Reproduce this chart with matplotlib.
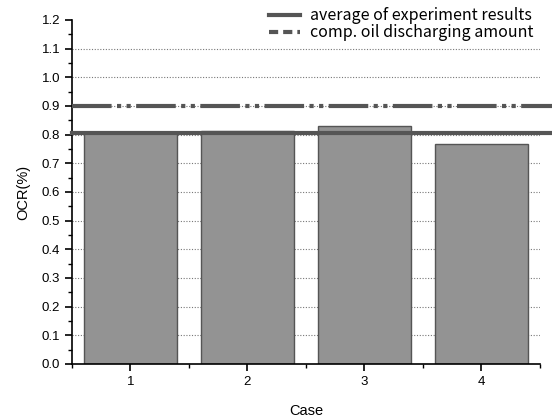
import numpy as np
import matplotlib.pyplot as plt
from matplotlib.lines import Line2D
from matplotlib.ticker import MultipleLocator

plt.rcParams['font.family'] = ['Liberation Sans', 'DejaVu Sans']

cases = [1, 2, 3, 4]
ocr = [0.805, 0.813, 0.830, 0.766]
avg_result = 0.805
comp_oil = 0.90

fig = plt.figure(figsize=(5.52, 4.18), dpi=100)
ax = fig.add_axes([0.1304, 0.1292, 0.8478, 0.8230])

# dotted grid behind the bars
for y in np.arange(0.1, 1.15, 0.1):
    ax.axhline(y, color='#777777', lw=0.8, ls=(0, (1, 1.5)), zorder=0)

ax.bar(cases, ocr, width=0.8, color='#939393', edgecolor='#555555', lw=1.0, zorder=2)

ax.axhline(avg_result, xmin=0, xmax=1.026, color='#555555', lw=3, clip_on=False, zorder=3)
ax.axhline(comp_oil, xmin=0, xmax=1.026, color='#555555', lw=3,
           ls=(0, (9.5, 1.3, 1, 1.3, 1, 1.3)), clip_on=False, zorder=3)

ax.set_xlim(0.5, 4.5)
ax.set_ylim(0, 1.2)
ax.set_xticks(cases)
ax.xaxis.set_minor_locator(MultipleLocator(0.5))
ax.yaxis.set_major_locator(MultipleLocator(0.1))
ax.yaxis.set_minor_locator(MultipleLocator(0.05))
ax.set_yticklabels([f'{v:.1f}' for v in ax.get_yticks()])
ax.tick_params(which='major', length=5, width=1.2, labelsize=9.5, direction='out')
ax.tick_params(which='minor', length=3, width=1.0, direction='out')

for s in ['top', 'right']:
    ax.spines[s].set_visible(False)
for s in ['left', 'bottom']:
    ax.spines[s].set_linewidth(1.2)

ax.set_xlabel('Case', fontsize=10.5, labelpad=12)
ax.set_ylabel('OCR(%)', fontsize=10.5, labelpad=8)

handles = [Line2D([], [], color='#555555', lw=3),
           Line2D([], [], color='#555555', lw=3, ls=(0, (2.2, 1.2)))]
ax.legend(handles, ['average of experiment results', 'comp. oil discharging amount'],
          loc='upper right', bbox_to_anchor=(1.0, 1.055), frameon=False,
          prop={'family': ['Noto Sans CJK KR', 'DejaVu Sans'], 'size': 11.5},
          handlelength=2.0, handletextpad=0.6, labelspacing=0.0, borderaxespad=0)

fig.savefig('out.png', dpi=100)
